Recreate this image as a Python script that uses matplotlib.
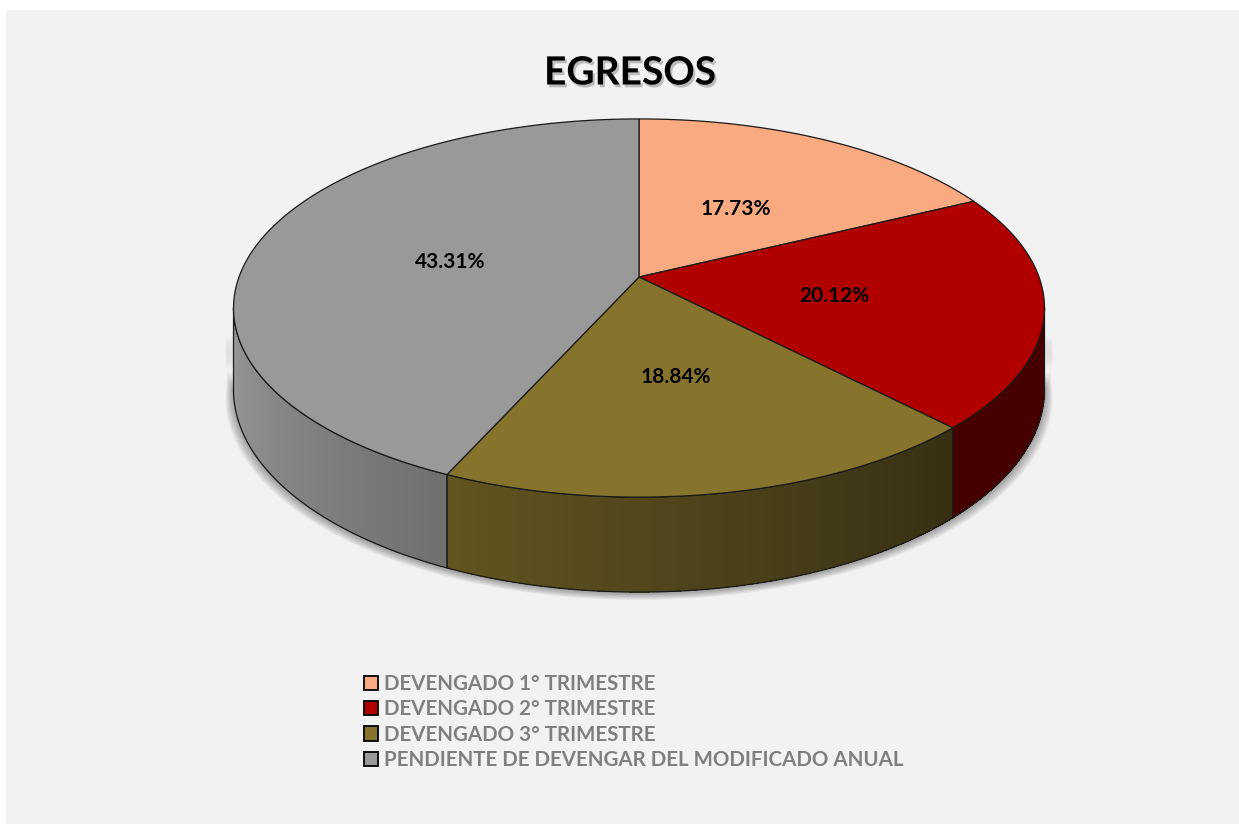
import numpy as np
import matplotlib
matplotlib.use("Agg")
import matplotlib.pyplot as plt
from matplotlib.patches import Polygon, Rectangle, Patch
import matplotlib.patheffects as pe

# ---------------- data ----------------
categories = ["DEVENGADO 1° TRIMESTRE", "DEVENGADO 2° TRIMESTRE",
              "DEVENGADO 3° TRIMESTRE", "PENDIENTE DE DEVENGAR DEL MODIFICADO ANUAL"]
values = [17.73, 20.12, 18.84, 43.31]
labels = ["17.73%", "20.12%", "18.84%", "43.31%"]
colors = ["#FAAA80", "#B00000", "#86742D", "#999999"]
title = "EGRESOS"

# ---------------- layout / style ----------------
W, H = 1239, 824
CX, CY = 639, 277        # apex of the pie (pixels)
RX, RY = 400, 184        # rim radii
K = 0.164                # perspective strength
DEPTH = 79.4             # side thickness
FONT = "Lato"

fig = plt.figure(figsize=(W / 100, H / 100), dpi=100, facecolor="white")
ax = fig.add_axes([0, 0, 1, 1])
ax.set_xlim(0, W)
ax.set_ylim(H, 0)
ax.axis("off")
ax.add_patch(Rectangle((6, 10), W, H, facecolor="#F2F2F2", edgecolor="none", zorder=0))


def proj(rho, th):
    th = np.radians(th)
    f = 1.0 / (1.0 + K * rho * np.cos(th))
    return CX + RX * rho * np.sin(th) * f, CY - RY * rho * np.cos(th) * f


def drop(th):
    return DEPTH / (1.0 + K * np.cos(np.radians(th)))


def shade(rgb, th):
    fac = np.clip(0.4 + (th - 136.0) * 0.00484, 0.4, 1.0)
    return tuple(np.clip(np.array(rgb) * fac, 0, 1))


vals = np.array(values, dtype=float)
bounds = np.concatenate([[0], np.cumsum(vals) / vals.sum() * 360.0])
th_r = np.degrees(np.arccos(-K))
th_l = 360.0 - th_r

# soft shadow under the pie
ts = np.linspace(th_r - 5, th_l + 5, 200)
for i in range(10):
    grow = 1 + i * 1.0
    xs, ys = proj(1, ts)
    xs = CX + (xs - CX) * (1 + grow / RX * 0.8)
    yb = ys + drop(ts) + 1 + grow * 0.7
    ytop = ys + drop(ts) * 0.55
    poly = np.column_stack([np.concatenate([xs, xs[::-1]]),
                            np.concatenate([yb, ytop[::-1]])])
    ax.add_patch(Polygon(poly, closed=True, facecolor="black", edgecolor="none",
                         alpha=0.035, zorder=1))

# sides with shading
for i in range(len(vals)):
    a, b = max(bounds[i], th_r), min(bounds[i + 1], th_l)
    if b <= a:
        continue
    rgb = matplotlib.colors.to_rgb(colors[i])
    t = np.linspace(a, b, max(int((b - a) * 2), 2))
    for j in range(len(t) - 1):
        tt = np.array([t[j], min(t[j + 1] + 0.3, b)])
        xs, ys = proj(1, tt)
        yb = ys + drop(tt)
        quad = [(xs[0], ys[0]), (xs[1], ys[1]), (xs[1], yb[1]), (xs[0], yb[0])]
        c = shade(rgb, 0.5 * (t[j] + t[j + 1]))
        ax.add_patch(Polygon(quad, closed=True, facecolor=c, edgecolor="none",
                             antialiased=False, zorder=2))
    xs, ys = proj(1, t)
    yb = ys + drop(t)
    outline = np.column_stack([np.concatenate([xs, xs[::-1]]),
                               np.concatenate([ys, yb[::-1]])])
    ax.add_patch(Polygon(outline, closed=True, facecolor="none", edgecolor="#1a1a1a",
                         linewidth=0.9, zorder=3))

# top faces
for i in range(len(vals)):
    t = np.linspace(bounds[i], bounds[i + 1], 200)
    xs, ys = proj(1, t)
    poly = np.column_stack([np.concatenate([[CX], xs]), np.concatenate([[CY], ys])])
    ax.add_patch(Polygon(poly, closed=True, facecolor=colors[i], edgecolor="#1a1a1a",
                         linewidth=0.9, zorder=4))

# data labels
for i in range(len(vals)):
    mid = 0.5 * (bounds[i] + bounds[i + 1])
    x, y = proj(0.49, mid)
    ax.text(x, y + 3.5, labels[i], ha="center", va="center", fontsize=15,
            fontweight="bold", family=FONT, color="black", zorder=6)

# title
ax.text(630, 73, title, ha="center", va="center", fontsize=28, fontweight="bold",
        family=FONT, color="black", zorder=6,
        path_effects=[pe.withSimplePatchShadow(offset=(1.5, -2), shadow_rgbFace="#555555", alpha=0.35)])

# legend
handles = [Patch(facecolor=c, edgecolor="black", linewidth=1.3) for c in colors]
leg = ax.legend(handles, categories, loc="upper left",
                bbox_to_anchor=(364 / W, 1 - 674 / H), frameon=False,
                prop={"family": FONT, "weight": "bold", "size": 14.8},
                labelcolor="#7F7F7F", handlelength=0.68, handleheight=0.68,
                handletextpad=0.3, labelspacing=0.26, borderpad=0, borderaxespad=0)

fig.savefig("out.png", dpi=100, facecolor="white")
